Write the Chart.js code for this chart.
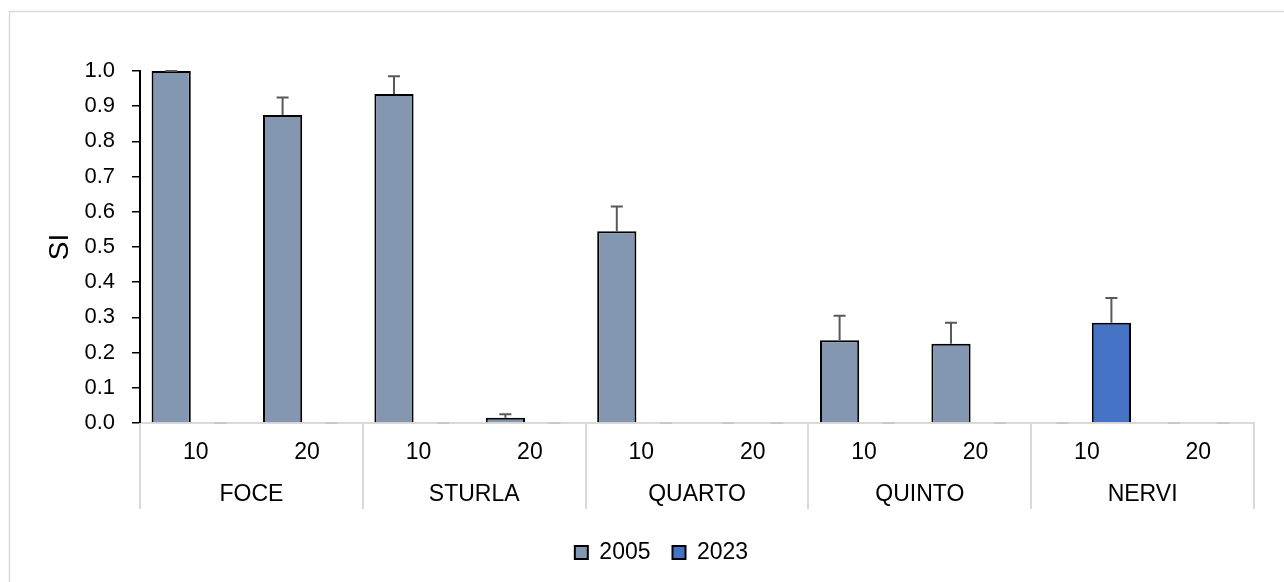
<!DOCTYPE html>
<html>
<head>
<meta charset="utf-8">
<script src="https://cdn.jsdelivr.net/npm/chart.js@4.4.1/dist/chart.umd.min.js"></script>
<style>
  html, body { margin: 0; padding: 0; background: #fff; }
  #wrap { width: 1284px; height: 582px; position: relative; }
</style>
</head>
<body>
<div id="wrap"><canvas id="chart" width="1284" height="582"></canvas></div>
<script>
// Sites and sampling depths (m)
const sites = ['FOCE', 'STURLA', 'QUARTO', 'QUINTO', 'NERVI'];
const depths = ['10', '20'];
const categories = sites.flatMap(() => depths);

// SI values and their standard errors, one entry per site/depth
const si2005 = [1.0, 0.875, 0.935, 0.015, 0.545, 0, 0.235, 0.225, 0, 0];
const err2005 = [0, 0.05, 0.05, 0.01, 0.07, 0, 0.07, 0.06, 0, 0];
const si2023 = [0, 0, 0, 0, 0, 0, 0, 0, 0.285, 0];
const err2023 = [0, 0, 0, 0, 0, 0, 0, 0, 0.07, 0];

const yTicks = { min: 0, max: 1, step: 0.1 };

const FONT = 'Liberation Sans, Arial, sans-serif';

// White page plus the light outer frame of the chart
const framePlugin = {
  id: 'frame',
  beforeDraw(chart) {
    const ctx = chart.ctx;
    ctx.save();
    ctx.fillStyle = '#fff';
    ctx.fillRect(0, 0, chart.width, chart.height);
    ctx.strokeStyle = '#D9D9D9';
    ctx.lineWidth = 1.5;
    ctx.strokeRect(9.5, 11.5, chart.width + 20, chart.height + 20);
    ctx.restore();
  }
};

// Upper error whiskers with caps
const errorBarPlugin = {
  id: 'errorBars',
  afterDatasetsDraw(chart) {
    const ctx = chart.ctx;
    const y = chart.scales.y;
    chart.data.datasets.forEach((ds, d) => {
      const meta = chart.getDatasetMeta(d);
      meta.data.forEach((bar, i) => {
        const v = ds.data[i];
        const e = ds.errors[i];
        const top = y.getPixelForValue(v + e);
        const base = y.getPixelForValue(v);
        const empty = v === 0 && e === 0;
        ctx.save();
        ctx.strokeStyle = empty ? '#C8C8C8' : '#595959';
        ctx.lineWidth = 2;
        ctx.beginPath();
        if (!empty) {
          ctx.moveTo(bar.x, base);
          ctx.lineTo(bar.x, top);
        }
        ctx.moveTo(bar.x - 6, top);
        ctx.lineTo(bar.x + 6, top);
        ctx.stroke();
        ctx.restore();
      });
    });
  }
};

// Vertical dividers between site groups on the two-level category axis
const groupDividerPlugin = {
  id: 'groupDividers',
  afterDraw(chart) {
    const ctx = chart.ctx;
    const x = chart.scales.x;
    const x2 = chart.scales.x2;
    const top = chart.chartArea.bottom;
    const bottom = x2.bottom - 10;
    ctx.save();
    ctx.strokeStyle = '#D9D9D9';
    ctx.lineWidth = 2;
    ctx.beginPath();
    for (let i = 0; i <= sites.length; i++) {
      const px = Math.round(x.getPixelForDecimal(i / sites.length));
      ctx.moveTo(px, top);
      ctx.lineTo(px, bottom);
    }
    ctx.stroke();
    ctx.restore();
  }
};

new Chart(document.getElementById('chart'), {
  type: 'bar',
  data: {
    labels: categories,
    datasets: [
      {
        label: '2005',
        data: si2005,
        errors: err2005,
        backgroundColor: '#8497B0',
        borderColor: '#000000',
        borderWidth: 2,
        categoryPercentage: 0.88,
        barPercentage: 0.8
      },
      {
        label: '2023',
        data: si2023,
        errors: err2023,
        backgroundColor: '#4472C4',
        borderColor: '#000000',
        borderWidth: 2,
        categoryPercentage: 0.88,
        barPercentage: 0.8
      }
    ]
  },
  options: {
    responsive: false,
    animation: false,
    devicePixelRatio: 1,
    layout: { padding: { left: 39, right: 0, top: 71, bottom: 8 } },
    plugins: {
      tooltip: { enabled: false },
      legend: {
        position: 'bottom',
        labels: {
          color: '#000',
          font: { family: FONT, size: 23 },
          boxWidth: 13,
          boxHeight: 13,
          padding: 22
        }
      }
    },
    scales: {
      x: {
        type: 'category',
        position: 'bottom',
        weight: 0,
        z: 1,
        offset: true,
        grid: { display: false, drawTicks: false },
        border: { display: true, color: '#D9D9D9', width: 2 },
        ticks: {
          color: '#000',
          font: { family: FONT, size: 23 },
          padding: 16,
          maxRotation: 0,
          autoSkip: false
        },
        afterFit(s) { s.height = 48; }
      },
      x2: {
        type: 'category',
        position: 'bottom',
        weight: 1,
        labels: sites,
        offset: true,
        grid: { display: false, drawTicks: false },
        border: { display: false },
        ticks: {
          color: '#000',
          font: { family: FONT, size: 23 },
          padding: 10,
          maxRotation: 0,
          autoSkip: false
        },
        afterFit(s) { s.height = 48; }
      },
      y: {
        min: yTicks.min,
        max: yTicks.max,
        grid: {
          drawOnChartArea: false,
          drawTicks: true,
          tickLength: 8,
          color: '#000',
          lineWidth: 1.5
        },
        border: { display: true, color: '#000', width: 2 },
        ticks: {
          stepSize: yTicks.step,
          color: '#000',
          font: { family: FONT, size: 22 },
          padding: 17,
          callback: (v) => Number(v).toFixed(1)
        },
        title: {
          display: true,
          text: 'SI',
          color: '#000',
          font: { family: FONT, size: 28 },
          padding: { top: 4, bottom: 0 }
        },
        afterFit(s) { s.width = 101; }
      },
      yRight: {
        position: 'right',
        display: true,
        grid: { display: false, drawTicks: false },
        border: { display: false },
        ticks: { display: false },
        afterFit(s) { s.width = 30; }
      }
    }
  },
  plugins: [framePlugin, errorBarPlugin, groupDividerPlugin]
});
</script>
</body>
</html>
